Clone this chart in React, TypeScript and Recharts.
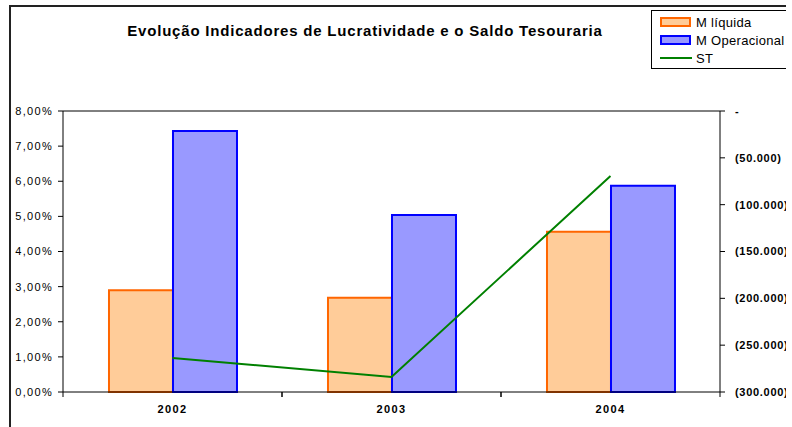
import React from "react";
import {
  ComposedChart,
  Bar,
  Line,
  XAxis,
  YAxis,
  ReferenceLine,
} from "recharts";

const years = ["2002", "2003", "2004"];
const margemLiquida = [0.029, 0.0268, 0.0456];
const margemOperacional = [0.0743, 0.0504, 0.0587];
const saldoTesouraria = [-263700, -284000, -69400];
const leftTicks = [0, 0.01, 0.02, 0.03, 0.04, 0.05, 0.06, 0.07, 0.08];
const rightTicks = [-300000, -250000, -200000, -150000, -100000, -50000, 0];

const data = years.map((y, i) => ({
  year: y,
  liquida: margemLiquida[i],
  operacional: margemOperacional[i],
  st: saldoTesouraria[i],
}));

const FONT = "'Liberation Sans', Arial, sans-serif";
const W = 792;
const H = 427;
const CLIP_W = 786;
const PLOT_LEFT = 63;
const PLOT_RIGHT_W = 72;

const fmtPct = (v: number) => (v * 100).toFixed(2).replace(".", ",") + "%";
const fmtST = (v: number) => {
  if (v === 0) return "-";
  const s = Math.abs(v).toLocaleString("de-DE");
  return v < 0 ? `(${s})` : s;
};

const bandWidth = (W - PLOT_LEFT - PLOT_RIGHT_W) / years.length;

function YearTick(props: any) {
  const { x, y, payload } = props;
  const half = bandWidth / 2;
  return (
    <g>
      <line x1={x - half} y1={y - 8} x2={x - half} y2={y - 3} stroke="#000" />
      <line x1={x + half} y1={y - 8} x2={x + half} y2={y - 3} stroke="#000" />
      <text
        x={x}
        y={y + 13}
        textAnchor="middle"
        fontFamily={FONT}
        fontSize={11}
        fontWeight="bold"
        letterSpacing={1.4}
        fill="#000"
      >
        {payload.value}
      </text>
    </g>
  );
}

const legendItems = [
  { label: "M líquida", fill: "#FFCC99", stroke: "#FF6600", type: "bar" },
  { label: "M Operacional", fill: "#9999FF", stroke: "#0000FF", type: "bar" },
  { label: "ST", fill: "none", stroke: "#008000", type: "line" },
];

export default function App() {
  return (
    <div
      style={{
        position: "absolute",
        left: 0,
        top: 0,
        width: W,
        height: H,
        overflow: "hidden",
        background: "#fff",
        fontFamily: FONT,
      }}
    >
      <div
        style={{
          position: "absolute",
          left: 0,
          top: 0,
          width: CLIP_W,
          height: H,
          overflow: "hidden",
        }}
      >
        <div
          style={{
            position: "absolute",
            left: 9,
            top: 5,
            width: W + 20,
            height: H + 20,
            border: "2px solid #222",
          }}
        />
        <div
          style={{
            position: "absolute",
            left: 0,
            width: 730,
            top: 22,
            textAlign: "center",
            fontSize: 15,
            fontWeight: "bold",
            letterSpacing: 0.8,
          }}
        >
          Evolução Indicadores de Lucratividade e o Saldo Tesouraria
        </div>
        <div
          style={{
            position: "absolute",
            left: 651,
            top: 10,
            width: 140,
            height: 57,
            border: "1px solid #000",
            background: "#fff",
            fontSize: 13,
            letterSpacing: 0.3,
          }}
        >
          {legendItems.map((it) => (
            <div
              key={it.label}
              style={{
                display: "flex",
                alignItems: "center",
                height: 18,
                marginTop: it.label === "M líquida" ? 2 : 0,
                whiteSpace: "nowrap",
              }}
            >
              <svg width={36} height={18} style={{ marginLeft: 7, flexShrink: 0 }}>
                {it.type === "bar" ? (
                  <rect x={2} y={5} width={29} height={8} fill={it.fill} stroke={it.stroke} strokeWidth={2} />
                ) : (
                  <line x1={1} y1={9} x2={33} y2={9} stroke={it.stroke} strokeWidth={2} />
                )}
              </svg>
              <span style={{ marginLeft: 1 }}>{it.label}</span>
            </div>
          ))}
        </div>
        <ComposedChart
          width={W}
          height={H}
          data={data}
          margin={{ top: 111, right: 0, bottom: 0, left: 0 }}
          barCategoryGap="21%"
          barGap={0}
          style={{ position: "absolute", left: 0, top: 0 }}
        >
          <XAxis
            dataKey="year"
            height={35}
            axisLine={{ stroke: "#000" }}
            tickLine={false}
            tick={<YearTick />}
            interval={0}
          />
          <YAxis
            yAxisId="left"
            width={PLOT_LEFT}
            domain={[0, 0.08]}
            ticks={leftTicks}
            tickFormatter={fmtPct}
            axisLine={{ stroke: "#000" }}
            tickLine={{ stroke: "#000" }}
            tickSize={5}
            tickMargin={5}
            tick={{ fill: "#000", fontSize: 11, fontFamily: FONT, letterSpacing: 1.3 }}
            interval={0}
          />
          <YAxis
            yAxisId="right"
            orientation="right"
            width={PLOT_RIGHT_W}
            domain={[-300000, 0]}
            ticks={rightTicks}
            tickFormatter={fmtST}
            axisLine={{ stroke: "#000" }}
            tickLine={{ stroke: "#000" }}
            tickSize={5}
            tickMargin={10}
            tick={{ fill: "#000", fontSize: 11, fontFamily: FONT, fontWeight: "bold", textAnchor: "start", letterSpacing: 0.7 }}
            interval={0}
          />
          <ReferenceLine yAxisId="left" y={0.08} stroke="#000" />
          <Bar
            yAxisId="left"
            dataKey="liquida"
            name="M líquida"
            fill="#FFCC99"
            stroke="#FF6600"
            strokeWidth={2}
            isAnimationActive={false}
          />
          <Bar
            yAxisId="left"
            dataKey="operacional"
            name="M Operacional"
            fill="#9999FF"
            stroke="#0000FF"
            strokeWidth={2}
            isAnimationActive={false}
          />
          <Line
            yAxisId="right"
            dataKey="st"
            name="ST"
            type="linear"
            stroke="#008000"
            strokeWidth={2}
            dot={false}
            isAnimationActive={false}
          />
        </ComposedChart>
      </div>
    </div>
  );
}
